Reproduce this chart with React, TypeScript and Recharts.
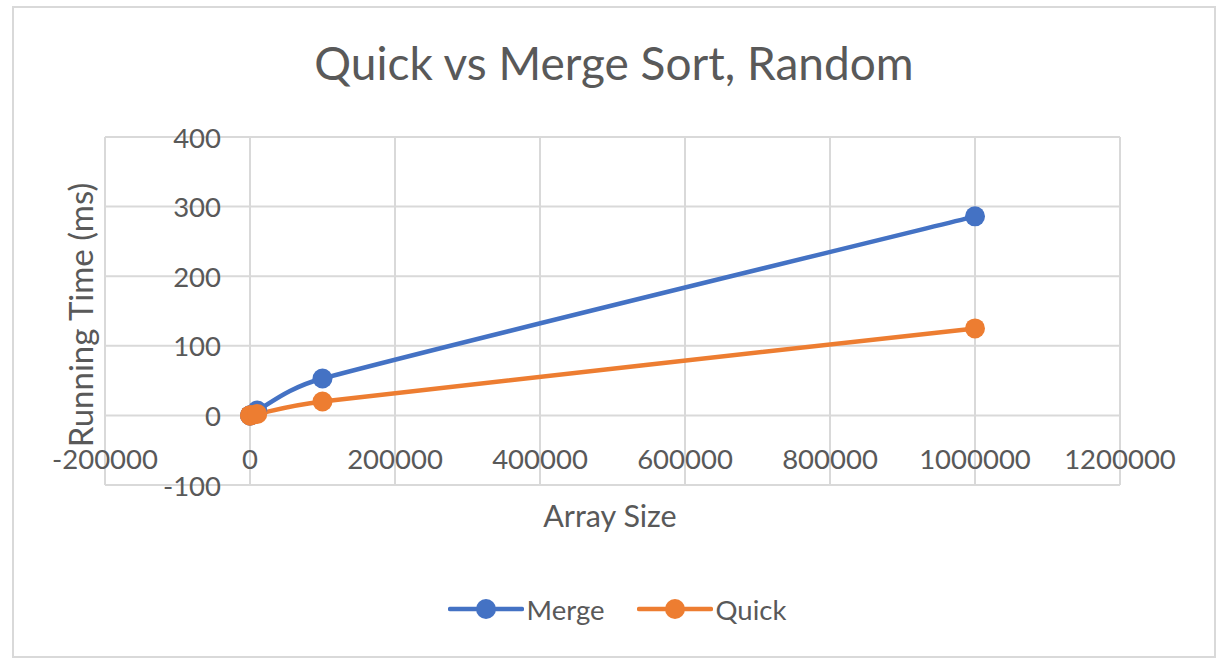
import React from 'react';
import { ComposedChart, Line, XAxis, YAxis, CartesianGrid, Customized } from 'recharts';

const ARRAY_SIZES = [10, 100, 1000, 10000, 100000, 1000000];
const MERGE_MS = [0, 0, 0.4, 7, 53, 286];
const QUICK_MS = [0, 0, 0.1, 2, 20, 125];
const X_TICKS = [-200000, 0, 200000, 400000, 600000, 800000, 1000000, 1200000];
const Y_TICKS = [-100, 0, 100, 200, 300, 400];
const SERIES_NAMES = ['Merge', 'Quick'];
const SERIES_COLORS = ['#4472C4', '#ED7D31'];
const TITLE = 'Quick vs Merge Sort, Random';
const X_TITLE = 'Array Size';
const Y_TITLE = 'Running Time (ms)';

const W = 1232;
const H = 672;
const LEFT = 105;
const RIGHT = 1120;
const TOP = 137;
const BOTTOM = 485;
const AXIS_SIZE = 1;
const XMIN = X_TICKS[0];
const XMAX = X_TICKS[X_TICKS.length - 1];
const YMIN = Y_TICKS[0];
const YMAX = Y_TICKS[Y_TICKS.length - 1];
const X0 = LEFT + ((RIGHT - LEFT) * (0 - XMIN)) / (XMAX - XMIN);
const Y0 = TOP + ((BOTTOM - TOP) * (YMAX - 0)) / (YMAX - YMIN);

const FONT = 'Lato, "Open Sans", sans-serif';
const TEXT_COLOR = '#595959';
const GRID = '#d9d9d9';

const mergeData = ARRAY_SIZES.map((x, i) => ({ x, y: MERGE_MS[i] }));
const quickData = ARRAY_SIZES.map((x, i) => ({ x, y: QUICK_MS[i] }));
const seriesData = [mergeData, quickData];

// Excel-like smoothed line: cubic Bezier with 1/6 tangents, clamped to avoid loops
function excelSmooth(context: any) {
  let pts: number[][] = [];
  const clamp = (dx: number, dy: number, maxLen: number) => {
    const len = Math.hypot(dx, dy);
    if (len > maxLen && len > 0) {
      const k = maxLen / len;
      return [dx * k, dy * k];
    }
    return [dx, dy];
  };
  return {
    areaStart() {},
    areaEnd() {},
    lineStart() {
      pts = [];
    },
    point(x: number, y: number) {
      pts.push([+x, +y]);
    },
    lineEnd() {
      const n = pts.length;
      if (!n) return;
      context.moveTo(pts[0][0], pts[0][1]);
      for (let i = 0; i < n - 1; i++) {
        const p0 = pts[Math.max(i - 1, 0)];
        const p1 = pts[i];
        const p2 = pts[i + 1];
        const p3 = pts[Math.min(i + 2, n - 1)];
        const seg = Math.hypot(p2[0] - p1[0], p2[1] - p1[1]);
        const a = clamp((p2[0] - p0[0]) / 6, (p2[1] - p0[1]) / 6, seg / 2);
        const b = clamp((p3[0] - p1[0]) / 6, (p3[1] - p1[1]) / 6, seg / 2);
        context.bezierCurveTo(p1[0] + a[0], p1[1] + a[1], p2[0] - b[0], p2[1] - b[1], p2[0], p2[1]);
      }
    },
  };
}

const renderXTick = (props: any) => {
  const { x, payload } = props;
  return (
    <text x={x} y={Y0 + 43} textAnchor="middle" dominantBaseline="central" fontFamily={FONT} fontSize={27.5} fill={TEXT_COLOR}>
      {payload.value}
    </text>
  );
};

const renderYTick = (props: any) => {
  const { y, payload } = props;
  return (
    <text x={X0 - 29} y={y} textAnchor="end" dominantBaseline="central" fontFamily={FONT} fontSize={27.5} fill={TEXT_COLOR}>
      {payload.value}
    </text>
  );
};

const Titles = () => (
  <g>
    <text x={614} y={80} textAnchor="middle" fontFamily={FONT} fontSize={46} fill={TEXT_COLOR}>
      {TITLE}
    </text>
    <text x={610} y={515} textAnchor="middle" dominantBaseline="central" fontFamily={FONT} fontSize={30.5} fill={TEXT_COLOR}>
      {X_TITLE}
    </text>
    <text
      x={80}
      y={315}
      textAnchor="middle"
      dominantBaseline="central"
      fontFamily={FONT}
      fontSize={33}
      fill={TEXT_COLOR}
      transform={`rotate(-90 80 315)`}
    >
      {Y_TITLE}
    </text>
  </g>
);

const LegendBox = () => (
  <div
    style={{
      position: 'absolute',
      left: 0,
      top: 590,
      width: 1232,
      display: 'flex',
      justifyContent: 'center',
      gap: 32,
      fontFamily: FONT,
      fontSize: 27.5,
      color: TEXT_COLOR,
      paddingLeft: 2,
      boxSizing: 'border-box',
    }}
  >
    {SERIES_NAMES.map((name, i) => (
      <div key={name} style={{ display: 'flex', alignItems: 'center', height: 38 }}>
        <svg width={76} height={24} style={{ marginRight: 3 }}>
          <line x1={2} y1={12} x2={74} y2={12} stroke={SERIES_COLORS[i]} strokeWidth={4.5} strokeLinecap="round" />
          <circle cx={38} cy={12} r={10} fill={SERIES_COLORS[i]} />
        </svg>
        <span>{name}</span>
      </div>
    ))}
  </div>
);

export default function App() {
  return (
    <div style={{ position: 'absolute', left: 0, top: 0, width: W, height: H, background: '#fff' }}>
      <div
        style={{
          position: 'absolute',
          left: 12,
          top: 6,
          width: 1204,
          height: 652,
          border: `2px solid ${GRID}`,
          boxSizing: 'border-box',
        }}
      />
      <div style={{ position: 'absolute', left: 0, top: 0 }}>
        <ComposedChart
          width={W}
          height={H}
          margin={{ top: TOP, left: LEFT - AXIS_SIZE, right: W - RIGHT, bottom: H - BOTTOM - AXIS_SIZE }}
        >
          <CartesianGrid stroke={GRID} strokeWidth={2} horizontal vertical />
          <XAxis
            type="number"
            dataKey="x"
            domain={[XMIN, XMAX]}
            ticks={X_TICKS}
            allowDataOverflow
            height={AXIS_SIZE}
            axisLine={false}
            tickLine={false}
            tick={renderXTick}
            interval={0}
          />
          <YAxis
            type="number"
            dataKey="y"
            domain={[YMIN, YMAX]}
            ticks={Y_TICKS}
            allowDataOverflow
            width={AXIS_SIZE}
            axisLine={false}
            tickLine={false}
            tick={renderYTick}
            interval={0}
          />
          {SERIES_NAMES.map((name, i) => (
            <Line
              key={name}
              name={name}
              data={seriesData[i]}
              dataKey="y"
              type={excelSmooth as any}
              stroke={SERIES_COLORS[i]}
              strokeWidth={4.5}
              dot={{ r: 10, fill: SERIES_COLORS[i], stroke: SERIES_COLORS[i], strokeWidth: 0 }}
              isAnimationActive={false}
            />
          ))}
          <Customized component={Titles} />
        </ComposedChart>
      </div>
      <LegendBox />
    </div>
  );
}
